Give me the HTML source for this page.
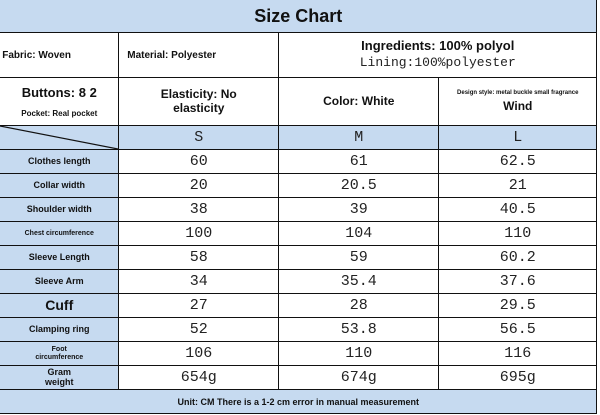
<!DOCTYPE html>
<html><head><meta charset="utf-8"><style>
*{box-sizing:border-box;margin:0;padding:0}
body{width:600px;height:415px;background:#fff;position:relative;overflow:hidden;font-family:"Liberation Sans",sans-serif;color:#111}
.c{position:absolute;display:flex;align-items:center;justify-content:center;text-align:center;border:1.5px solid #111;margin:-0.75px 0 0 -0.75px;font-weight:bold;line-height:1.15}
.b{background:#c6daf0}
.m{font-family:"Liberation Mono","Noto Sans CJK SC",monospace;font-weight:normal;font-size:15px;color:#222}
</style></head><body>
<div class="c b" style="left:0;top:0;width:598px;height:34px;font-size:18px">Size Chart</div>
<div class="c" style="left:0;top:33px;width:120px;height:46px;font-size:10px;justify-content:flex-start;padding-left:2px">Fabric: Woven</div>
<div class="c" style="left:119px;top:33px;width:161px;height:46px;font-size:10px;justify-content:flex-start;padding-left:8px">Material: Polyester</div>
<div class="c" style="left:279px;top:33px;width:319px;height:46px;flex-direction:column;font-size:13px">Ingredients: 100% polyol<span class="m" style="font-size:13px;margin-top:2px">Lining:100%polyester</span></div>
<div class="c" style="left:0;top:78px;width:120px;height:49px;flex-direction:column;font-size:13px">Buttons: 8 2<span style="font-size:8px;margin-top:8px">Pocket: Real pocket</span></div>
<div class="c" style="left:119px;top:78px;width:161px;height:49px;font-size:12px">Elasticity: No<br>elasticity</div>
<div class="c" style="left:279px;top:78px;width:161px;height:49px;font-size:12px">Color: White</div>
<div class="c" style="left:439px;top:78px;width:159px;height:49px;flex-direction:column;font-size:6px">Design style: metal buckle small fragrance<span style="font-size:12px;margin-top:3px">Wind</span></div>
<div class="c b" style="left:0;top:126px;width:120px;height:25px"><svg width="118" height="23" style="position:absolute;left:0;top:0"><line x1="0" y1="0" x2="118" y2="23" stroke="#111" stroke-width="1.2"/></svg></div>
<div id="t"></div>
<div class="c b" style="left:0;top:390px;width:598px;height:25px;font-size:9px">Unit: CM There is a 1-2 cm error in manual measurement</div>
<script>
const sizes=["S","M","L"];
const labels=["Clothes length","Collar width","Shoulder width","Chest circumference","Sleeve Length","Sleeve Arm","Cuff","Clamping ring","Foot<br>circumference","Gram<br>weight"];
const labelSizes=[9,9,9,7,9,9,14,9,7,9];
const sVals=["60","20","38","100","58","34","27","52","106","654g"];
const mVals=["61","20.5","39","104","59","35.4","28","53.8","110","674g"];
const lVals=["62.5","21","40.5","110","60.2","37.6","29.5","56.5","116","695g"];
const xs=[119,279,439],ws=[161,161,159];
let h='';
sizes.forEach((s,i)=>{h+=`<div class="c b m" style="left:${xs[i]}px;top:126px;width:${ws[i]}px;height:25px">${s}</div>`;});
const cols=[sVals,mVals,lVals];
labels.forEach((l,r)=>{
 const y=150+r*24;
 h+=`<div class="c b" style="left:0;top:${y}px;width:120px;height:25px;font-size:${labelSizes[r]}px;line-height:1.05">${l}</div>`;
 cols.forEach((c,i)=>{h+=`<div class="c m" style="left:${xs[i]}px;top:${y}px;width:${ws[i]}px;height:25px">${c[r]}</div>`;});
});
document.getElementById('t').innerHTML=h;
</script>
</body></html>
